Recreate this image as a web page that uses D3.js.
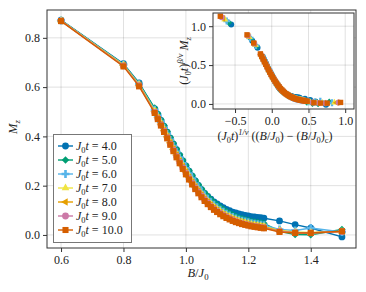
<!DOCTYPE html>
<html>
<head>
<meta charset="utf-8" />
<script src="https://d3js.org/d3.v7.min.js"></script>
<style>
  body { margin: 0; background: #fff; }
</style>
</head>
<body>
<svg id="chart" width="366" height="292"></svg>
<script>
// field values B/J0
let fields = [0.6, 0.8, 0.85,
  0.90, 0.91, 0.92, 0.93, 0.94, 0.95, 0.96, 0.97, 0.98, 0.99,
  1.00, 1.01, 1.02, 1.03, 1.04, 1.05, 1.06, 1.07, 1.08, 1.09,
  1.10, 1.11, 1.12, 1.13, 1.14, 1.15, 1.16, 1.17, 1.18, 1.19,
  1.20, 1.21, 1.22, 1.23, 1.24, 1.25,
  1.3, 1.35, 1.4, 1.5];

let times = [4.0, 5.0, 6.0, 7.0, 8.0, 9.0, 10.0];

// M_z for each J0 t
let mz4 = [0.872, 0.695, 0.617,
  0.512, 0.489, 0.465, 0.441, 0.417, 0.393, 0.369, 0.346, 0.323, 0.301,
  0.280, 0.259, 0.239, 0.219, 0.201, 0.184, 0.169, 0.156, 0.145, 0.134,
  0.126, 0.118, 0.111, 0.104, 0.099, 0.093, 0.089, 0.085, 0.082, 0.079,
  0.077, 0.074, 0.073, 0.071, 0.070, 0.068,
  0.057, 0.042, 0.028, -0.008];
let mz5 = [0.871, 0.693, 0.615,
  0.515, 0.492, 0.468, 0.444, 0.420, 0.396, 0.372, 0.349, 0.326, 0.304,
  0.283, 0.262, 0.242, 0.222, 0.204, 0.187, 0.171, 0.157, 0.144, 0.132,
  0.122, 0.112, 0.103, 0.095, 0.088, 0.081, 0.075, 0.070, 0.066, 0.062,
  0.059, 0.055, 0.053, 0.051, 0.049, 0.047,
  0.015, 0.002, 0.001, 0.022];
let mz6 = [0.870, 0.692, 0.612,
  0.508, 0.484, 0.460, 0.435, 0.410, 0.386, 0.361, 0.337, 0.314, 0.291,
  0.270, 0.249, 0.229, 0.209, 0.192, 0.175, 0.159, 0.146, 0.133, 0.122,
  0.112, 0.102, 0.094, 0.086, 0.079, 0.073, 0.067, 0.062, 0.058, 0.055,
  0.052, 0.048, 0.046, 0.044, 0.042, 0.040,
  0.022, 0.018, 0.028, 0.012];
let mz7 = [0.870, 0.690, 0.610,
  0.503, 0.479, 0.454, 0.429, 0.404, 0.379, 0.353, 0.329, 0.306, 0.283,
  0.262, 0.241, 0.221, 0.201, 0.184, 0.167, 0.152, 0.138, 0.126, 0.115,
  0.105, 0.096, 0.087, 0.080, 0.074, 0.067, 0.062, 0.057, 0.053, 0.050,
  0.047, 0.043, 0.041, 0.039, 0.037, 0.035,
  0.018, 0.012, 0.010, 0.014];
let mz8 = [0.869, 0.688, 0.608,
  0.500, 0.476, 0.450, 0.425, 0.399, 0.374, 0.348, 0.324, 0.300, 0.277,
  0.255, 0.234, 0.214, 0.195, 0.178, 0.162, 0.146, 0.133, 0.121, 0.110,
  0.100, 0.091, 0.083, 0.076, 0.069, 0.063, 0.058, 0.054, 0.050, 0.046,
  0.043, 0.040, 0.038, 0.036, 0.034, 0.032,
  0.016, 0.010, 0.009, 0.013];
let mz9 = [0.869, 0.686, 0.606,
  0.497, 0.472, 0.447, 0.421, 0.395, 0.369, 0.344, 0.319, 0.295, 0.272,
  0.250, 0.229, 0.209, 0.190, 0.173, 0.157, 0.142, 0.129, 0.116, 0.105,
  0.096, 0.087, 0.079, 0.072, 0.066, 0.060, 0.055, 0.050, 0.046, 0.043,
  0.040, 0.037, 0.035, 0.033, 0.031, 0.029,
  0.014, 0.009, 0.008, 0.014];
let mz10 = [0.868, 0.684, 0.603,
  0.495, 0.470, 0.444, 0.418, 0.392, 0.366, 0.340, 0.315, 0.291, 0.268,
  0.246, 0.225, 0.205, 0.186, 0.169, 0.153, 0.138, 0.125, 0.113, 0.102,
  0.093, 0.084, 0.076, 0.069, 0.063, 0.057, 0.052, 0.048, 0.044, 0.041,
  0.038, 0.035, 0.033, 0.031, 0.029, 0.027,
  0.012, 0.008, 0.008, 0.015];

let xTicks = [0.6, 0.8, 1.0, 1.2, 1.4];
let yTicks = [0.0, 0.2, 0.4, 0.6, 0.8];
let insetXTicks = [-0.5, 0.0, 0.5, 1.0];
let insetYTicks = [0.0, 0.5, 1.0];

// scaling exponents / critical field used for the collapse
let Bc = 0.985;
let invNu = 0.26;
let betaNu = 0.114;

let colors = ["#0072B2", "#009E73", "#56B4E9", "#F0E442", "#E69F00", "#CC79A7", "#D55E00"];
let markers = ["circle", "diamond", "cross", "utri", "ltri", "circle", "square"];

let allMz = [mz4, mz5, mz6, mz7, mz8, mz9, mz10];
let series = times.map((t, i) => ({
  t: t,
  color: colors[i],
  marker: markers[i],
  pts: fields.map((b, j) => ({ x: b, y: allMz[i][j] })),
}));

let FONT = "'Liberation Serif', 'DejaVu Serif', serif";
let svg = d3.select("#chart").attr("font-family", FONT);
let fs = 12;

function markerPath(kind, d) {
  let sym = d3.symbol();
  if (kind == "circle") return sym.type(d3.symbolCircle).size(Math.PI * d * d / 4)();
  if (kind == "square") return sym.type(d3.symbolSquare).size(d * d * 0.8)();
  if (kind == "diamond") return sym.type(d3.symbolSquare).size(d * d * 0.6)();
  if (kind == "cross") return sym.type(d3.symbolCross).size(d * d * 0.75)();
  return sym.type(d3.symbolTriangle).size(d * d * 0.55)();
}
function markerRot(kind) {
  if (kind == "diamond") return 45;
  if (kind == "ltri") return -90;
  return 0;
}

// math-ish text with sub/superscripts
function addMath(el, parts, size) {
  let shift = 0;
  el.attr("font-family", FONT).attr("fill", "#222");
  parts.forEach(([txt, st]) => {
    let target = st.includes("sub") ? size * 0.25 : st.includes("sup") ? -size * 0.4 : 0;
    let ts = el.append("tspan").attr("dy", target - shift).text(txt);
    shift = target;
    if (st.includes("i")) ts.attr("font-style", "italic");
    if (st.includes("sub") || st.includes("sup")) ts.attr("font-size", size * 0.7);
  });
}

function drawAxes(g, x, y, xt, yt, fmt) {
  let [x0, x1] = x.range();
  let [y0, y1] = y.range();
  g.append("rect")
    .attr("x", x0).attr("y", y1).attr("width", x1 - x0).attr("height", y0 - y1)
    .attr("fill", "#fff");
  g.selectAll(".gx").data(xt).join("line")
    .attr("x1", (d) => x(d)).attr("x2", (d) => x(d))
    .attr("y1", y0).attr("y2", y1)
    .attr("stroke", "#000").attr("stroke-opacity", 0.12);
  g.selectAll(".gy").data(yt).join("line")
    .attr("class", "gy")
    .attr("x1", x0).attr("x2", x1)
    .attr("y1", (d) => y(d)).attr("y2", (d) => y(d))
    .attr("stroke", "#000").attr("stroke-opacity", 0.12);
  let xa = g.append("g").attr("transform", `translate(0,${y0})`)
    .call(d3.axisBottom(x).tickValues(xt).tickFormat(fmt).tickSize(4).tickPadding(3));
  let ya = g.append("g").attr("transform", `translate(${x0},0)`)
    .call(d3.axisLeft(y).tickValues(yt).tickFormat(fmt).tickSize(4).tickPadding(3));
  [xa, ya].forEach((a) => {
    a.attr("font-family", FONT).attr("font-size", fs);
    a.select(".domain").remove();
    a.selectAll("line").attr("stroke", "#333");
    a.selectAll("text").attr("fill", "#222");
  });
}

// main axes
let x = d3.scaleLinear().domain([0.555, 1.545]).range([47, 356]);
let y = d3.scaleLinear().domain([-0.053, 0.913]).range([248, 10]);
let main = svg.append("g");
drawAxes(main, x, y, xTicks, yTicks, d3.format(".1f"));

let line = d3.line().x((d) => x(d.x)).y((d) => y(d.y));
series.forEach((s) => {
  main.append("path").datum(s.pts)
    .attr("d", line).attr("fill", "none")
    .attr("stroke", s.color).attr("stroke-width", 1.4);
  main.selectAll(null).data(s.pts).join("path")
    .attr("d", markerPath(s.marker, 6.8))
    .attr("transform", (d) => `translate(${x(d.x)},${y(d.y)}) rotate(${markerRot(s.marker)})`)
    .attr("fill", s.color);
});
main.append("rect")
  .attr("x", 47).attr("y", 10).attr("width", 309).attr("height", 238)
  .attr("fill", "none").attr("stroke", "#333").attr("stroke-width", 1);

// axis labels
addMath(svg.append("text").attr("transform", "translate(17,127) rotate(-90)")
  .attr("text-anchor", "middle").attr("font-size", 12.5),
  [["M", "i"], ["z", "sub i"]], 12.5);
addMath(svg.append("text").attr("x", 198).attr("y", 277)
  .attr("text-anchor", "middle").attr("font-size", 12.5),
  [["B", "i"], ["/", ""], ["J", "i"], ["0", "sub"]], 12.5);

// legend
let leg = svg.append("g");
leg.append("rect")
  .attr("x", 53.5).attr("y", 134.5).attr("width", 78).attr("height", 108)
  .attr("fill", "#fff").attr("stroke", "#777").attr("stroke-width", 1);
series.forEach((s, i) => {
  let ly = 146 + i * 14;
  leg.append("line").attr("x1", 58).attr("x2", 73).attr("y1", ly).attr("y2", ly)
    .attr("stroke", s.color).attr("stroke-width", 1.4);
  leg.append("path").attr("d", markerPath(s.marker, 6.8))
    .attr("transform", `translate(65.5,${ly}) rotate(${markerRot(s.marker)})`)
    .attr("fill", s.color);
  addMath(leg.append("text").attr("x", 76).attr("y", ly + 4).attr("font-size", fs),
    [["J", "i"], ["0", "sub"], ["t", "i"], [" = " + d3.format(".1f")(s.t), ""]], fs);
});

// inset: scaling collapse
let ix = d3.scaleLinear().domain([-0.8, 1.12]).range([213, 354]);
let iy = d3.scaleLinear().domain([-0.065, 1.17]).range([109, 13]);
let inset = svg.append("g");
drawAxes(inset, ix, iy, insetXTicks, insetYTicks, d3.format(".1f"));
series.forEach((s) => {
  let sx = Math.pow(s.t, invNu);
  let sy = Math.pow(s.t, betaNu);
  inset.selectAll(null).data(s.pts).join("path")
    .attr("d", markerPath(s.marker, 6))
    .attr("transform", (d) => `translate(${ix(sx * (d.x - Bc))},${iy(sy * d.y)}) rotate(${markerRot(s.marker)})`)
    .attr("fill", s.color);
});
inset.append("rect")
  .attr("x", 213).attr("y", 13).attr("width", 141).attr("height", 96)
  .attr("fill", "none").attr("stroke", "#333").attr("stroke-width", 1);

addMath(svg.append("text").attr("transform", "translate(188,61) rotate(-90)")
  .attr("text-anchor", "middle").attr("font-size", fs),
  [["(", ""], ["J", "i"], ["0", "sub"], ["t", "i"], [")", ""], ["β/ν", "sup i"],
   [" ", ""], ["M", "i"], ["z", "sub i"]], fs);
addMath(svg.append("text").attr("x", 275).attr("y", 140)
  .attr("text-anchor", "middle").attr("font-size", fs),
  [["(", ""], ["J", "i"], ["0", "sub"], ["t", "i"], [")", ""], ["1/ν", "sup i"],
   [" ((", ""], ["B", "i"], ["/", ""], ["J", "i"], ["0", "sub"], [") − (", ""],
   ["B", "i"], ["/", ""], ["J", "i"], ["0", "sub"], [")", ""], ["c", "sub"], [")", ""]], fs);
</script>
</body>
</html>
